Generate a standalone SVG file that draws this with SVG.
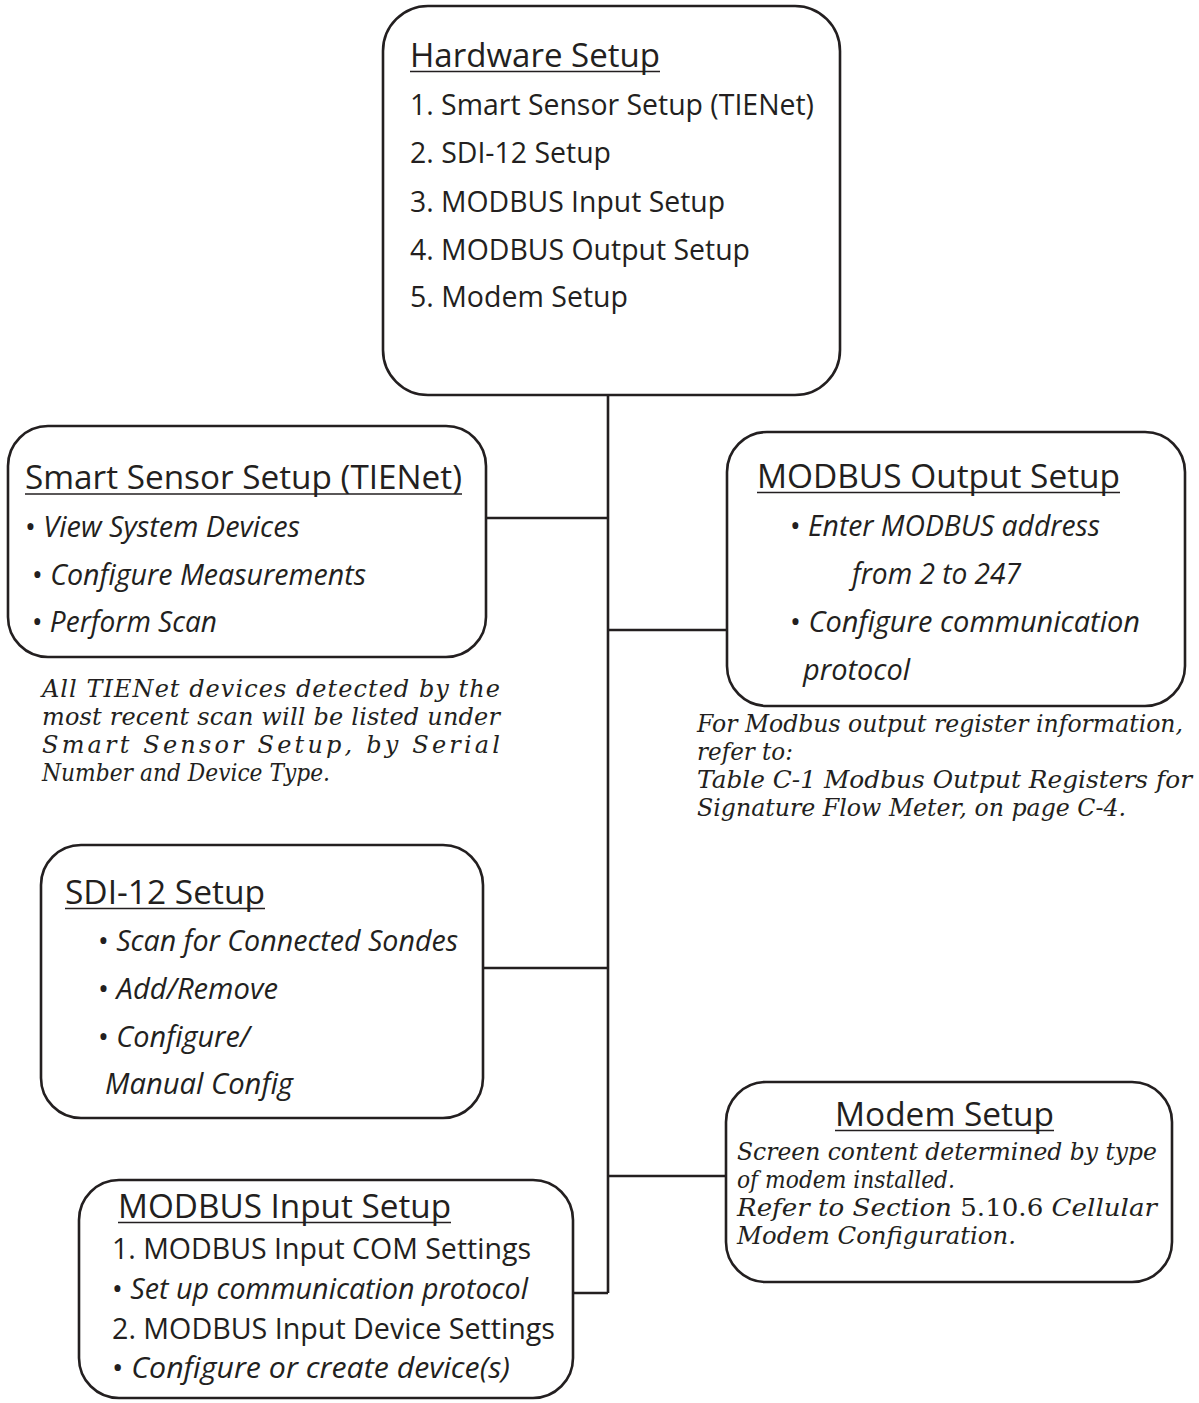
<svg xmlns="http://www.w3.org/2000/svg" width="1199" height="1403" viewBox="0 0 1199 1403">
<style>
.box{fill:#fff;stroke:#231f20;stroke-width:2.6}
.con{fill:none;stroke:#231f20;stroke-width:2.6}
.ul{stroke:#231f20;stroke-width:1.6}
.t{font-family:"Open Sans","Noto Sans","Liberation Sans",sans-serif;font-size:33px;fill:#231f20}
.s{font-family:"Open Sans","Noto Sans","Liberation Sans",sans-serif;font-size:30px;fill:#231f20}
.i{font-style:italic}
.n{font-family:"DejaVu Serif","Liberation Serif",serif;font-style:italic;font-size:24px;fill:#231f20}
.up{font-style:normal}
</style>
<rect width="1199" height="1403" fill="#fff"/>
<g id="connectors">
<path class="con" d="M608,395 V1293 M486,518 H608 M608,630 H727 M483,968 H608 M608,1176 H726 M573,1293 H608"/>
</g>
<g id="hardware">
<rect class="box" x="383" y="6" width="457" height="389" rx="45"/>
<text class="t" x="410" y="67" textLength="250" lengthAdjust="spacingAndGlyphs">Hardware Setup</text>
<line class="ul" x1="410" y1="71.5" x2="660" y2="71.5"/>
<text class="s" x="410" y="115" textLength="404" lengthAdjust="spacingAndGlyphs">1. Smart Sensor Setup (TIENet)</text>
<text class="s" x="410" y="163" textLength="201" lengthAdjust="spacingAndGlyphs">2. SDI-12 Setup</text>
<text class="s" x="410" y="212" textLength="315" lengthAdjust="spacingAndGlyphs">3. MODBUS Input Setup</text>
<text class="s" x="410" y="260" textLength="340" lengthAdjust="spacingAndGlyphs">4. MODBUS Output Setup</text>
<text class="s" x="410" y="307" textLength="218" lengthAdjust="spacingAndGlyphs">5. Modem Setup</text>
</g>
<g id="smart-sensor">
<rect class="box" x="8" y="426" width="478" height="231" rx="40"/>
<text class="t" x="25" y="489" textLength="437" lengthAdjust="spacingAndGlyphs">Smart Sensor Setup (TIENet)</text>
<line class="ul" x1="25" y1="494" x2="462" y2="494"/>
<text class="s" x="25" y="537" textLength="275" lengthAdjust="spacingAndGlyphs">• <tspan class="i">View System Devices</tspan></text>
<text class="s" x="32" y="585" textLength="334" lengthAdjust="spacingAndGlyphs">• <tspan class="i">Configure Measurements</tspan></text>
<text class="s" x="32" y="632" textLength="185" lengthAdjust="spacingAndGlyphs">• <tspan class="i">Perform Scan</tspan></text>
</g>
<g id="smart-sensor-note">
<text class="n" x="42" y="697" textLength="458" lengthAdjust="spacing">All TIENet devices detected by the</text>
<text class="n" x="42" y="725" textLength="458" lengthAdjust="spacing">most recent scan will be listed under</text>
<text class="n" x="42" y="753" textLength="458" lengthAdjust="spacing">Smart Sensor Setup, by Serial</text>
<text class="n" x="42" y="781" textLength="288" lengthAdjust="spacingAndGlyphs">Number and Device Type.</text>
</g>
<g id="modbus-output">
<rect class="box" x="727" y="432" width="458" height="274" rx="40"/>
<text class="t" x="757" y="488" textLength="363" lengthAdjust="spacingAndGlyphs">MODBUS Output Setup</text>
<line class="ul" x1="757" y1="492.5" x2="1120" y2="492.5"/>
<text class="s" x="790" y="536" textLength="310" lengthAdjust="spacingAndGlyphs">• <tspan class="i">Enter MODBUS address</tspan></text>
<text class="s i" x="852" y="584" textLength="169" lengthAdjust="spacingAndGlyphs">from 2 to 247</text>
<text class="s" x="790" y="632" textLength="350" lengthAdjust="spacingAndGlyphs">• <tspan class="i">Configure communication</tspan></text>
<text class="s i" x="803" y="680" textLength="107" lengthAdjust="spacingAndGlyphs">protocol</text>
</g>
<g id="modbus-output-note">
<text class="n" x="697" y="732" textLength="486" lengthAdjust="spacingAndGlyphs">For Modbus output register information,</text>
<text class="n" x="697" y="760" textLength="96" lengthAdjust="spacingAndGlyphs">refer to:</text>
<text class="n" x="697" y="788" textLength="495" lengthAdjust="spacingAndGlyphs">Table C-1 Modbus Output Registers for</text>
<text class="n" x="697" y="816" textLength="429" lengthAdjust="spacingAndGlyphs">Signature Flow Meter, on page C-4.</text>
</g>
<g id="sdi12">
<rect class="box" x="41" y="845" width="442" height="273" rx="40"/>
<text class="t" x="65" y="904" textLength="200" lengthAdjust="spacingAndGlyphs">SDI-12 Setup</text>
<line class="ul" x1="65" y1="908.5" x2="265" y2="908.5"/>
<text class="s" x="98" y="951" textLength="360" lengthAdjust="spacingAndGlyphs">• <tspan class="i">Scan for Connected Sondes</tspan></text>
<text class="s" x="98" y="999" textLength="180" lengthAdjust="spacingAndGlyphs">• <tspan class="i">Add/Remove</tspan></text>
<text class="s" x="98" y="1047" textLength="152" lengthAdjust="spacingAndGlyphs">• <tspan class="i">Configure/</tspan></text>
<text class="s i" x="105" y="1094" textLength="188" lengthAdjust="spacingAndGlyphs">Manual Config</text>
</g>
<g id="modem">
<rect class="box" x="726" y="1082" width="446" height="200" rx="40"/>
<text class="t" x="835" y="1126" textLength="219" lengthAdjust="spacingAndGlyphs">Modem Setup</text>
<line class="ul" x1="835" y1="1130.5" x2="1054" y2="1130.5"/>
<text class="n" x="737" y="1160" textLength="420" lengthAdjust="spacingAndGlyphs">Screen content determined by type</text>
<text class="n" x="737" y="1188" textLength="218" lengthAdjust="spacingAndGlyphs">of modem installed.</text>
<text class="n" x="737" y="1216" textLength="420" lengthAdjust="spacingAndGlyphs">Refer to Section <tspan class="up">5.10.6</tspan>  Cellular</text>
<text class="n" x="737" y="1244" textLength="279" lengthAdjust="spacingAndGlyphs">Modem Configuration.</text>
</g>
<g id="modbus-input">
<rect class="box" x="79" y="1180" width="494" height="218" rx="40"/>
<text class="t" x="118" y="1218" textLength="333" lengthAdjust="spacingAndGlyphs">MODBUS Input Setup</text>
<line class="ul" x1="118" y1="1222.5" x2="451" y2="1222.5"/>
<text class="s" x="112" y="1259" textLength="419" lengthAdjust="spacingAndGlyphs">1. MODBUS Input COM Settings</text>
<text class="s" x="112" y="1299" textLength="416" lengthAdjust="spacingAndGlyphs">• <tspan class="i">Set up communication protocol</tspan></text>
<text class="s" x="112" y="1339" textLength="443" lengthAdjust="spacingAndGlyphs">2. MODBUS Input Device Settings</text>
<text class="s" x="112" y="1378" textLength="398" lengthAdjust="spacingAndGlyphs">• <tspan class="i">Configure or create device(s)</tspan></text>
</g>
</svg>
